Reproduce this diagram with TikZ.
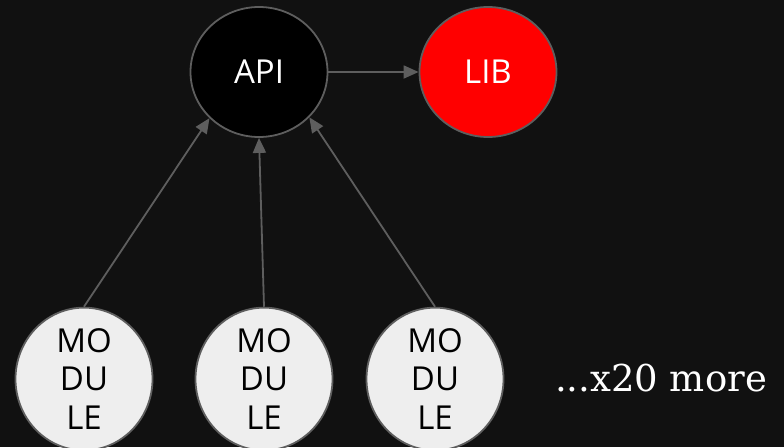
\documentclass[tikz,border=0pt]{standalone}
\usepackage{fontspec}
\setmainfont{Open Sans}
\newfontfamily\morefont{DejaVu Serif}
\usetikzlibrary{arrows.meta,shapes.geometric}
\definecolor{bg}{HTML}{111111}
\definecolor{edge}{HTML}{5E5E5E}
\definecolor{modfill}{HTML}{EEEEEE}
\begin{document}
\begin{tikzpicture}[x=1pt,y=-1pt,
  blob/.style={ellipse,draw=edge,line width=1.8pt,inner sep=0pt,
    minimum width=137pt,minimum height=130pt,font=\fontsize{33}{38.5}\selectfont,align=center},
  modnode/.style={blob,fill=modfill,text=black},
  link/.style={draw=edge,line width=1.8pt,-{Triangle[length=15pt,width=13pt]}}]
  \fill[bg] (0,0) rectangle (784,447);
  \useasboundingbox (0,0) rectangle (784,447);
  \node[blob,fill=black,text=white] (api) at (259,72) {API};
  \node[blob,fill=red,text=white] (lib) at (488,72) {LIB};
  \node[modnode] (m1) at (84,379) {MO\\DU\\LE};
  \node[modnode] (m2) at (264,379) {MO\\DU\\LE};
  \node[modnode] (m3) at (435,379) {MO\\DU\\LE};
  \node[text=white,font=\morefont\fontsize{37}{42}\selectfont] (more) at (661,378) {...x20 more};
  \draw[link] (api) -- (lib);
  \draw[link] (m1.north) -- (api.-137);
  \draw[link] (m2.north) -- (api.south);
  \draw[link] (m3.north) -- (api.-42);
\end{tikzpicture}
\end{document}
